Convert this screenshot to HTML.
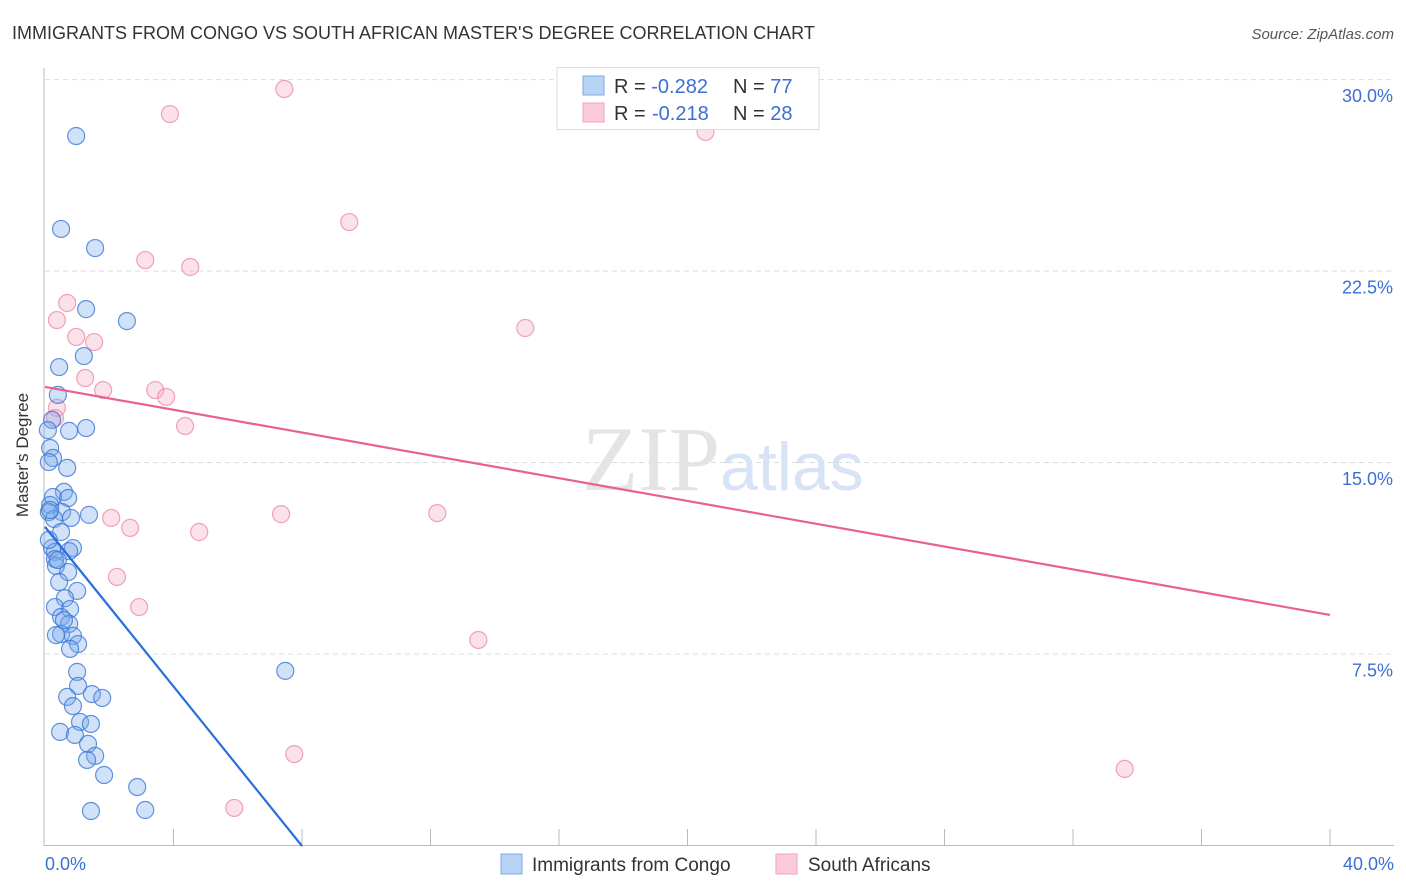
<!DOCTYPE html>
<html><head><meta charset="utf-8"><style>
body{margin:0;background:#fff;font-family:"Liberation Sans",sans-serif;}
svg{display:block}
</style></head><body>
<svg width="1406" height="892" xmlns="http://www.w3.org/2000/svg" id="chart">
<text x="12" y="39" font-size="18" fill="#333">IMMIGRANTS FROM CONGO VS SOUTH AFRICAN MASTER'S DEGREE CORRELATION CHART</text>
<text x="1394" y="39" font-size="15" fill="#555" text-anchor="end" font-style="italic">Source: ZipAtlas.com</text>
<g id="grid"></g>
<text x="720" y="490" font-size="92" fill="#e4e4e4" text-anchor="end" font-family="Liberation Serif">ZIP</text>
<text x="720" y="490" font-size="68" fill="#d6e4f5">atlas</text>
<line x1="44" y1="68" x2="44" y2="846" stroke="#bbb"/>
<line x1="44" y1="845.5" x2="1394" y2="845.5" stroke="#bbb"/>
<g id="ticks"></g>
<g id="pts"></g>
<g id="lines"></g>
<text x="28" y="455" font-size="17" fill="#333" text-anchor="middle" transform="rotate(-90 28 455)">Master's Degree</text>
<text x="45" y="870" font-size="18" fill="#3b6fd4">0.0%</text>
<text x="1394" y="870" font-size="18" fill="#3b6fd4" text-anchor="end">40.0%</text>
<g>
<rect x="557" y="67.5" width="262" height="62" fill="#fff" stroke="#ddd"/>
<rect x="583" y="76" width="21" height="19" fill="#b9d3f5" stroke="#7aa8e6"/>
<rect x="583" y="103" width="21" height="19" fill="#fbcbd9" stroke="#f0a3ba"/>
<text x="614" y="93" font-size="20" fill="#333">R = <tspan fill="#3b6fd4">-0.282</tspan><tspan x="733">N = </tspan><tspan fill="#3b6fd4">77</tspan></text>
<text x="614" y="120" font-size="20" fill="#333">R = <tspan fill="#3b6fd4" x="652">-0.218</tspan><tspan x="733">N = </tspan><tspan fill="#3b6fd4">28</tspan></text>
</g>
<g>
<rect x="501" y="854" width="21" height="20" fill="#b9d3f5" stroke="#7aa8e6"/>
<text x="532" y="871" font-size="19" fill="#333">Immigrants from Congo</text>
<rect x="776" y="854" width="21" height="20" fill="#fbcbd9" stroke="#f0a3ba"/>
<text x="808" y="871" font-size="19" fill="#333">South Africans</text>
</g>
</svg>
<script>
const yTicks=[7.5,15.0,22.5,30.0];
const blueX=[0.97,0.50,1.56,1.28,2.55,1.21,0.44,0.40,0.22,1.28,0.75,0.16,0.25,0.12,0.69,0.59,0.25,0.72,0.16,0.53,0.81,1.37,0.12,0.28,0.50,0.22,0.87,0.31,0.75,0.31,0.34,0.72,0.44,1.00,0.62,0.31,0.78,0.50,0.75,0.50,0.34,0.87,1.03,0.78,1.00,1.03,0.69,1.46,1.78,0.87,1.09,1.43,0.47,0.93,1.34,1.56,1.31,1.84,2.87,3.12,1.43,7.48,0.12,0.09,0.16,0.40,0.59];
const blueY=[27.81,24.17,23.42,21.03,20.56,19.19,18.76,17.67,16.69,16.37,16.26,15.59,15.20,15.04,14.81,13.87,13.67,13.63,13.36,13.08,12.85,12.97,13.08,12.81,12.30,11.67,11.67,11.52,11.55,11.24,10.97,10.73,10.34,9.99,9.71,9.36,9.28,8.97,8.70,8.30,8.26,8.23,7.91,7.72,6.82,6.27,5.84,5.95,5.80,5.48,4.86,4.78,4.47,4.35,4.00,3.53,3.37,2.78,2.31,1.41,1.37,6.86,11.99,16.29,13.16,11.20,8.85];
const pinkX=[7.45,3.89,20.56,9.47,3.12,4.52,0.69,0.37,0.97,1.53,14.95,1.25,1.81,3.43,3.77,0.37,0.31,4.36,2.06,2.65,4.80,7.35,12.21,2.24,2.93,13.49,7.76,33.61,5.89];
const pinkY=[29.65,28.67,27.97,24.44,22.95,22.68,21.27,20.60,19.94,19.74,20.29,18.33,17.86,17.86,17.59,17.16,16.76,16.45,12.85,12.46,12.30,13.00,13.04,10.54,9.36,8.07,3.60,3.02,1.49];
const blueLine=[0,12.5,8.0,0];
const pinkLine=[0,17.98,40,9.05];
const NS='http://www.w3.org/2000/svg';
const X=v=>45+v*32.125, Y=v=>846-v*25.53;
const grid=document.getElementById('grid');
yTicks.forEach(t=>{
 const l=document.createElementNS(NS,'line');
 
 
 l.setAttribute('x1',45);l.setAttribute('x2',1394);l.setAttribute('y1',Y(t)-0.5);l.setAttribute('y2',Y(t)-0.5);
 l.setAttribute('stroke','#ddd');l.setAttribute('stroke-dasharray','5,4');grid.appendChild(l);
 const tx=document.createElementNS(NS,'text');
 
 
 tx.setAttribute('x',1393);tx.setAttribute('y',Y(t)+22);tx.setAttribute('text-anchor','end');
 tx.setAttribute('font-size','18');tx.setAttribute('fill','#3b6fd4');tx.textContent=t.toFixed(1)+'%';grid.appendChild(tx);
});
const tk=document.getElementById('ticks');
for(let i=1;i<=10;i++){
 const l=document.createElementNS(NS,'line');
 
 
 const x=X(i*4);l.setAttribute('x1',x);l.setAttribute('x2',x);l.setAttribute('y1',829);l.setAttribute('y2',846);l.setAttribute('stroke','#bbb');tk.appendChild(l);
}
const pts=document.getElementById('pts');
function dots(xs,ys,fill,stroke,name){
 xs.forEach((x,i)=>{
  const c=document.createElementNS(NS,'circle');
  
  
  c.setAttribute('cx',X(x));c.setAttribute('cy',Y(ys[i]));c.setAttribute('r',8.5);
  c.setAttribute('fill',fill);c.setAttribute('stroke',stroke);c.setAttribute('stroke-width','1.2');pts.appendChild(c);
 });
}
dots(pinkX,pinkY,'rgba(244,170,195,0.35)','rgba(236,140,170,0.8)','south-african-point');
dots(blueX,blueY,'rgba(120,170,235,0.35)','rgba(60,120,215,0.8)','congo-point');
const lg=document.getElementById('lines');
function ln(a,col,name){
 const l=document.createElementNS(NS,'line');
 
 
 l.setAttribute('x1',X(a[0]));l.setAttribute('y1',Y(a[1]));l.setAttribute('x2',X(a[2]));l.setAttribute('y2',Y(a[3]));
 l.setAttribute('stroke',col);l.setAttribute('stroke-width','2.2');lg.appendChild(l);
}
ln(pinkLine,'#e8628f','south-african-trend');
ln(blueLine,'#2a6fdb','congo-trend');
</script>
</body></html>
